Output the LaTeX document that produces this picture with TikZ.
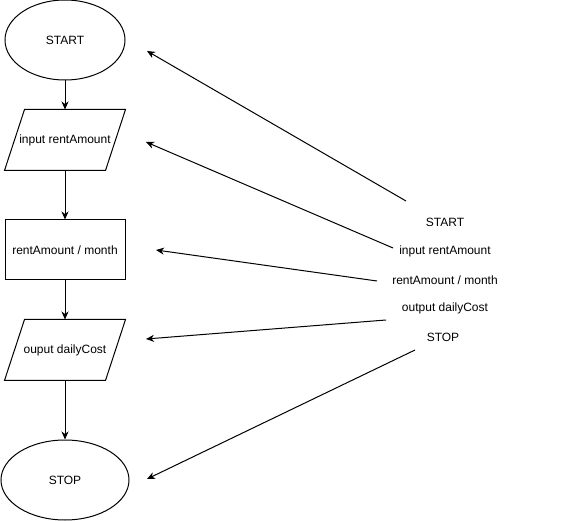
\documentclass[tikz,border=0pt]{standalone}
\usepackage{fontspec}
\setmainfont{Liberation Sans}
\usetikzlibrary{shapes.geometric,arrows.meta}
\begin{document}
\begin{tikzpicture}[x=1pt, y=-1pt, line width=1pt,
  font=\fontsize{12}{14}\selectfont,
  >={Stealth[length=8pt,width=7pt,inset=2.5pt]},
  terminal/.style={ellipse, draw, minimum width=120pt, minimum height=80pt, inner sep=0pt},
  io/.style={rectangle, minimum width=120pt, minimum height=60pt},
  process/.style={rectangle, draw, minimum width=120pt, minimum height=60pt},
  note/.style={inner sep=1pt}]
  \useasboundingbox (0,0) rectangle (576,521);

  \node (start) [terminal] at (65, 40) {START};
  \node (input) [io] at (65, 140) {input rentAmount};
  \node (calc) [process] at (65, 250) {rentAmount / month};
  \node (output) [io] at (65, 350) {ouput dailyCost};
  \node (stop) [terminal, minimum width=128pt] at (65, 480) {STOP};

  % slanted sides of the two io boxes
  \foreach \io in {input, output}
    \draw ([xshift=20pt]\io.north west) -- (\io.north east)
      -- ([xshift=-20pt]\io.south east) -- (\io.south west) -- cycle;

  \draw[->] (start) -- (input);
  \draw[->] (input) -- (calc);
  \draw[->] (calc) -- (output);
  \draw[->] (output) -- (stop);

  \node (start-note) [note] at (445, 222) {START};
  \node (input-note) [note] at (445, 251) {input rentAmount};
  \node (calc-note) [note] at (445, 280) {rentAmount / month};
  \node (output-note) [note] at (445, 308) {output dailyCost};
  \node (stop-note) [note] at (443, 337) {STOP};

  \coordinate (start-tail) at (406, 201);
  \coordinate (start-tip) at (147, 51);
  \coordinate (input-tail) at (393, 248);
  \coordinate (input-tip) at (146, 142);
  \coordinate (calc-tail) at (377, 281);
  \coordinate (calc-tip) at (156, 250);
  \coordinate (output-tail) at (386, 320);
  \coordinate (output-tip) at (146, 339);
  \coordinate (stop-tail) at (415, 350);
  \coordinate (stop-tip) at (147, 479);

  \draw[->] (start-tail) -- (start-tip);
  \draw[->] (input-tail) -- (input-tip);
  \draw[->] (calc-tail) -- (calc-tip);
  \draw[->] (output-tail) -- (output-tip);
  \draw[->] (stop-tail) -- (stop-tip);
\end{tikzpicture}
\end{document}
